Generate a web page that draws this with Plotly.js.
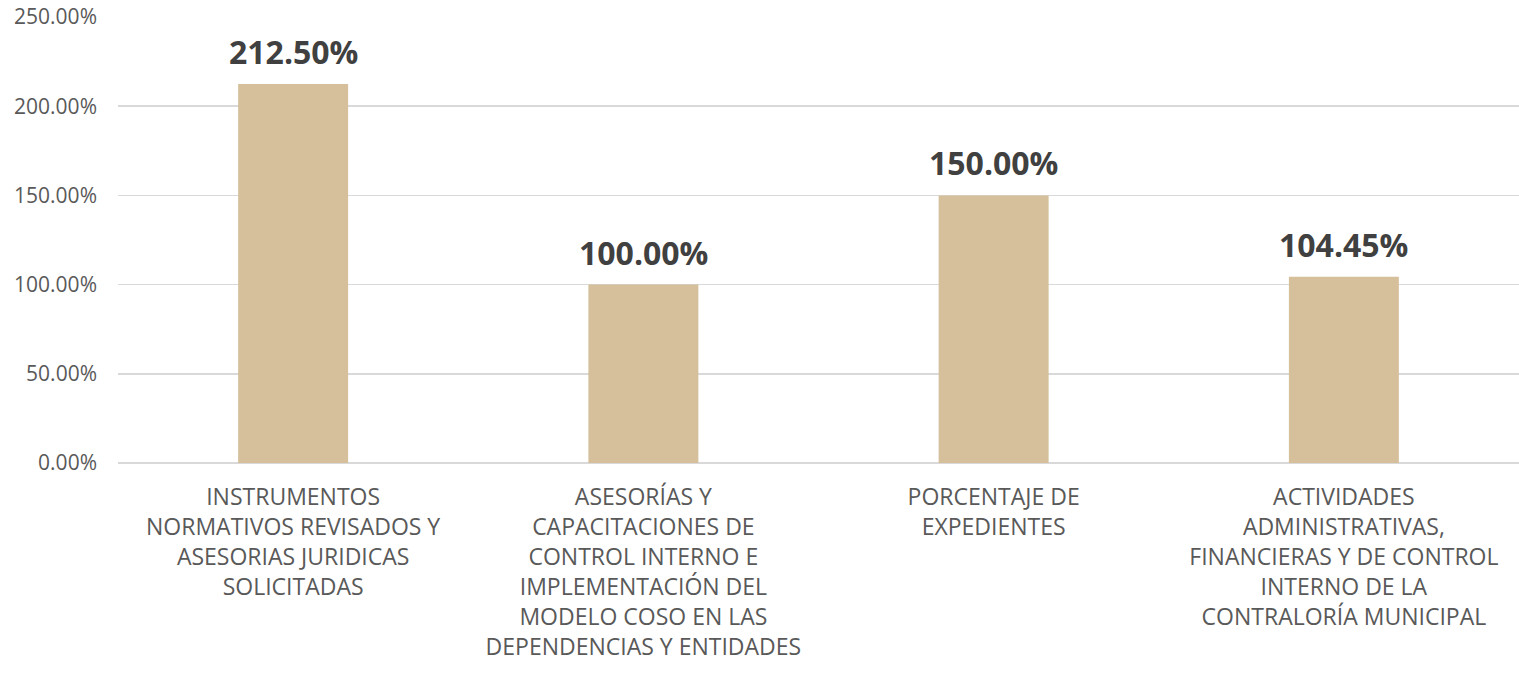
<!DOCTYPE html>
<html>
<head>
<meta charset="utf-8">
<script src="https://cdn.plot.ly/plotly-3.0.1.min.js"></script>
<style>html,body{margin:0;padding:0;background:#fff;}#chart{width:1519px;height:690px;}</style>
</head>
<body>
<div id="chart"></div>
<script>
const categories = [
  "INSTRUMENTOS<br>NORMATIVOS REVISADOS Y<br>ASESORIAS JURIDICAS<br>SOLICITADAS",
  "ASESORÍAS Y<br>CAPACITACIONES DE<br>CONTROL INTERNO E<br>IMPLEMENTACIÓN DEL<br>MODELO COSO EN LAS<br>DEPENDENCIAS Y ENTIDADES",
  "PORCENTAJE DE<br>EXPEDIENTES",
  "ACTIVIDADES<br>ADMINISTRATIVAS,<br>FINANCIERAS Y DE CONTROL<br>INTERNO DE LA<br>CONTRALORÍA MUNICIPAL"
];
const values = [212.50, 100.00, 150.00, 104.45];
const yTicks = [0, 50, 100, 150, 200, 250];

const font = "'Open Sans', 'Liberation Sans', sans-serif";
const xIdx = categories.map((c, i) => i);

const trace = {
  type: 'bar',
  x: xIdx,
  y: values,
  width: 0.314,
  marker: {color: '#d5c09b'},
  hoverinfo: 'none'
};

const annotations = values.map((v, i) => ({
  x: i, y: v, xref: 'x', yref: 'y',
  text: '<b>' + v.toFixed(2) + '%</b>',
  showarrow: false,
  yanchor: 'bottom',
  yshift: 9,
  font: {family: font, size: 32, color: '#404040'}
}));

const layout = {
  width: 1519, height: 690,
  margin: {l: 118, r: 0, t: 17, b: 227},
  paper_bgcolor: '#fff', plot_bgcolor: '#fff',
  showlegend: false,
  xaxis: {
    range: [-0.5, 3.5],
    tickvals: xIdx,
    ticktext: categories,
    showgrid: false, zeroline: false,
    showline: false, ticks: '',
    tickfont: {family: font, size: 23, color: '#595959'},
    ticklabelstandoff: 18,
    fixedrange: true
  },
  yaxis: {
    range: [0, 250],
    tickvals: yTicks,
    ticktext: yTicks.map(t => t.toFixed(2) + '%'),
    showgrid: true, gridcolor: '#d9d9d9', gridwidth: 1.5,
    zeroline: true, zerolinecolor: '#d9d9d9', zerolinewidth: 1.5,
    showline: false, ticks: '',
    tickfont: {family: font, size: 21, color: '#595959'},
    ticklabelstandoff: 20,
    fixedrange: true
  },
  annotations: annotations
};

Plotly.newPlot('chart', [trace], layout, {displayModeBar: false, staticPlot: true});
</script>
</body>
</html>
